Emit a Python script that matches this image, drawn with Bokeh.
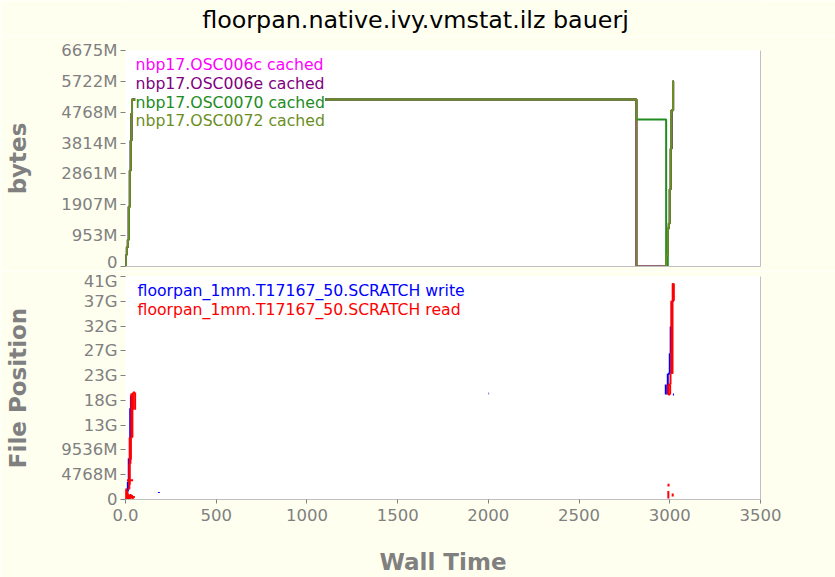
from bokeh.plotting import figure
from bokeh.layouts import column
from bokeh.models import FixedTicker, LinearAxis, Range1d, Label, ColumnDataSource
from bokeh.embed import file_html
from bokeh.resources import INLINE

# ---------------- data ----------------
title_text = "floorpan.native.ivy.vmstat.ilz bauerj"
x_ticks = [0, 500, 1000, 1500, 2000, 2500, 3000, 3500]
x_tick_labels = ["0.0", "500", "1000", "1500", "2000", "2500", "3000", "3500"]
top_ticks = [0, 1000000000, 2000000000, 3000000000, 4000000000, 5000000000, 6000000000, 7000000000]
top_tick_labels = ["0", "953M", "1907M", "2861M", "3814M", "4768M", "5722M", "6675M"]
bot_ticks = [0, 5000000000, 10000000000, 15000000000, 20000000000, 25000000000,
             30000000000, 35000000000, 40000000000, 45000000000]
bot_tick_labels = ["0", "4768M", "9536M", "13G", "18G", "23G", "27G", "32G", "37G", "41G"]

cache_names = ["nbp17.OSC006c cached", "nbp17.OSC006e cached",
               "nbp17.OSC0070 cached", "nbp17.OSC0072 cached"]
# step series: time (s), cached bytes (GB)
osc006c_t = [0, 1.7, 7, 13, 18, 24, 29, 33, 36, 2816, 2980, 2989, 2995, 3000, 3005, 3009, 3018, 3021]
osc006c_v = [0, 0.38, 0.62, 0.87, 1.94, 3.11, 4.08, 4.96, 5.41, 0, 0.36, 1.23, 1.39, 2.50, 3.82, 5.06, 6.0, 6.0]
osc006e_t = [0, 1.7, 7, 13, 18, 24, 29, 33, 36, 2816, 2980, 2989, 2995, 3000, 3006, 3011, 3019, 3021]
osc006e_v = [0, 0.38, 0.62, 0.87, 1.94, 3.11, 4.08, 4.96, 5.41, 0, 0.36, 1.23, 1.39, 2.50, 3.82, 5.06, 6.0, 6.0]
osc0070_t = [0, 1.7, 7, 13, 18, 24, 29, 33, 36, 2816, 2980, 2989, 2995, 3000, 3005, 3009, 3018, 3021]
osc0070_v = [0, 0.38, 0.62, 0.87, 1.94, 3.11, 4.08, 4.96, 5.41, 4.76, 0, 1.23, 1.39, 2.50, 3.82, 5.06, 6.0, 6.0]
osc0072_t = [0, 1.7, 7, 13, 18, 24, 29, 33, 36, 2816, 2980, 2989, 2995, 3000, 3005, 3009, 3018, 3021]
osc0072_v = [0, 0.38, 0.62, 0.87, 1.94, 3.11, 4.08, 4.96, 5.41, 0, 0.36, 1.23, 1.39, 2.50, 3.82, 5.06, 6.0, 6.0]

io_names = ["floorpan_1mm.T17167_50.SCRATCH write", "floorpan_1mm.T17167_50.SCRATCH read"]
# I/O segments: time start/end (s), file position start/end (GB)
write_t0 = [10, 13, 18, 26, 30, 184, 2001, 2978, 2989, 2989, 3000, 3005, 3011, 3018, 3017]
write_t1 = [10, 13, 18, 26, 30, 184, 2004, 2978, 2989, 3000, 3000, 3005, 3011, 3018, 3023]
write_p0 = [0.6, 1.6, 3.6, 8.3, 18.4, 1.3, 21.4, 21.2, 21.2, 25.4, 25.4, 29.5, 34.9, 39.9, 21.2]
write_p1 = [1.6, 3.6, 8.3, 18.4, 21.0, 1.5, 21.4, 23.2, 25.4, 25.4, 29.5, 34.9, 39.9, 43.6, 21.2]

read_t0 = [1, 3, 5, 7, 9, 12, 15, 20, 24, 28, 32, 36, 40, 46, 8,
           21, 23, 25, 27, 29, 32, 38, 32, 41, 53, 41,
           2991, 3002, 2991, 2991, 3004, 3009, 3012, 3015, 3016, 3019, 3022,
           2992, 2993, 3016]
read_t1 = [1, 3, 5, 7, 9, 12, 15, 20, 24, 28, 32, 36, 40, 46, 42,
           21, 23, 25, 27, 29, 32, 38, 38, 41, 53, 53,
           2991, 3002, 3002, 3002, 3004, 3009, 3012, 3015, 3016, 3019, 3022,
           2992, 2993, 3016]
read_p0 = [0.0, 0.0, 0.0, 0.3, 0.0, 0.2, 0.0, 0.3, 0.1, 0.4, 0.2, 0.5, 0.1, 0.3, 3.9,
           2.0, 3.0, 7.2, 7.2, 8.0, 12.5, 12.5, 12.5, 18.1, 18.1, 21.6,
           21.2, 21.2, 23.2, 21.2, 23.2, 25.4, 25.4, 25.4, 40.1, 40.1, 40.1,
           0.2, 2.6, 0.6]
read_p1 = [2.2, 2.0, 2.2, 1.8, 1.5, 1.2, 0.9, 1.0, 0.7, 1.1, 0.6, 0.9, 0.5, 0.7, 3.9,
           7.2, 12.5, 12.5, 12.5, 12.5, 21.4, 21.4, 12.5, 21.6, 21.6, 21.6,
           23.2, 23.2, 23.2, 21.2, 25.4, 40.1, 40.1, 40.1, 43.6, 43.6, 43.6,
           1.7, 3.2, 1.2]

# ---------------- style ----------------
BG = "#fffff0"
GRAY = "#808080"
AXLINE = "#c0c0c0"
FONT = "DejaVu Sans"
TICK_SIZE = "16.5px"
LEG_SIZE = "15.7px"
W = 835
X0, X1 = 0, 3500
TOP_MAX = 7e9
BOT_MAX = 45e9
FRAME_L = 125
FRAME_W = 635
TITLE_H = 36
FRAME_TOP = 50
TOP_H = 216
BOT_H = 227
GB = 1e9


def style_fig(p):
    p.background_fill_color = "white"
    p.border_fill_color = BG
    p.outline_line_color = None
    p.grid.visible = False


def style_yaxis(ax, ticks, labels, name):
    ax.ticker = FixedTicker(ticks=ticks)
    ax.major_label_overrides = {t: l for t, l in zip(ticks, labels)}
    ax.axis_line_color = None
    ax.major_tick_line_color = GRAY
    ax.major_tick_out = 5
    ax.major_tick_in = 0
    ax.minor_tick_line_color = None
    ax.major_label_standoff = 3
    ax.major_label_text_font = FONT
    ax.major_label_text_font_size = TICK_SIZE
    ax.major_label_text_color = GRAY
    ax.axis_label = name
    ax.axis_label_text_font = FONT
    ax.axis_label_text_font_size = "23px"
    ax.axis_label_text_font_style = "bold"
    ax.axis_label_text_color = GRAY
    ax.axis_label_standoff = 27


def line_axis():
    return LinearAxis(ticker=FixedTicker(ticks=[]), axis_line_color=AXLINE,
                      major_tick_line_color=None, minor_tick_line_color=None,
                      major_label_text_font_size="0px", major_label_standoff=0)


# ---------------- title strip (its frame is aligned with the panels below) ----------------
p0 = figure(width=W, height=TITLE_H, x_range=Range1d(0, 1), y_range=Range1d(0, 1),
            x_axis_location=None, y_axis_location=None, output_backend="svg",
            toolbar_location=None, min_border=0)
p0.background_fill_color = BG
p0.border_fill_color = BG
p0.outline_line_color = None
p0.grid.visible = False
title_cx = W / 2 - 2.5
title_cy = 19
p0.add_layout(Label(x=(title_cx - FRAME_L) / FRAME_W, y=1 - title_cy / TITLE_H, text=title_text,
                    text_color="black", text_font=FONT, text_font_size="23.8px",
                    text_align="center", text_baseline="middle"))

# ---------------- top panel ----------------
p1 = figure(width=W, height=271 - TITLE_H, x_range=Range1d(X0, X1), y_range=Range1d(0, TOP_MAX),
            x_axis_location=None, output_backend="svg", toolbar_location=None,
            min_border_left=FRAME_L, min_border_right=W - FRAME_L - FRAME_W,
            min_border_top=FRAME_TOP - TITLE_H, min_border_bottom=5)
style_fig(p1)
style_yaxis(p1.yaxis[0], top_ticks, top_tick_labels, "bytes")
p1.add_layout(line_axis(), "below")
p1.add_layout(line_axis(), "right")

series = [(osc006c_t, osc006c_v, "#ff00ff"), (osc006e_t, osc006e_v, "#800080"),
          (osc0070_t, osc0070_v, "#228b22"), (osc0072_t, osc0072_v, "#6b8e23")]
for (t, v, c) in series:
    p1.step(t, [vv * GB for vv in v], mode="after", line_color=c, line_width=2)

top_dx = 10 * (X1 - X0) / FRAME_W
top_items = list(enumerate(zip(cache_names, [s[2] for s in series])))
for i, (name, c) in reversed(top_items):
    off = 14.2 + 18.7 * i
    p1.add_layout(Label(x=X0 + top_dx, y=TOP_MAX - off * TOP_MAX / TOP_H, text=name,
                        text_color=c, text_font=FONT, text_font_size=LEG_SIZE,
                        text_baseline="middle", background_fill_color="white"))

# ---------------- bottom panel ----------------
p2 = figure(width=W, height=306, x_range=Range1d(X0, X1), y_range=Range1d(0, BOT_MAX),
            output_backend="svg", toolbar_location=None,
            min_border_left=FRAME_L, min_border_right=W - FRAME_L - FRAME_W,
            min_border_top=5, min_border_bottom=74)
style_fig(p2)
style_yaxis(p2.yaxis[0], bot_ticks, bot_tick_labels, "File Position")
xa = p2.xaxis[0]
xa.ticker = FixedTicker(ticks=x_ticks)
xa.major_label_overrides = {t: l for t, l in zip(x_ticks, x_tick_labels)}
xa.axis_line_color = AXLINE
xa.major_tick_line_color = GRAY
xa.major_tick_out = 4
xa.major_tick_in = 0
xa.minor_tick_line_color = None
xa.major_label_standoff = 5
xa.major_label_text_font = FONT
xa.major_label_text_font_size = TICK_SIZE
xa.major_label_text_color = GRAY
xa.axis_label = "Wall Time"
xa.axis_label_text_font = FONT
xa.axis_label_text_font_size = "23px"
xa.axis_label_text_font_style = "bold"
xa.axis_label_text_color = GRAY
xa.axis_label_standoff = 25
p2.add_layout(line_axis(), "right")

wsrc = ColumnDataSource(dict(x0=write_t0, x1=write_t1,
                             y0=[v * GB for v in write_p0], y1=[v * GB for v in write_p1]))
rsrc = ColumnDataSource(dict(x0=read_t0, x1=read_t1,
                             y0=[v * GB for v in read_p0], y1=[v * GB for v in read_p1]))
p2.segment(x0="x0", y0="y0", x1="x1", y1="y1", source=wsrc, line_color="#0000ff", line_width=2)
p2.segment(x0="x0", y0="y0", x1="x1", y1="y1", source=rsrc, line_color="#ff0000", line_width=2)

bot_dx = 12 * (X1 - X0) / FRAME_W
for i, (name, c) in enumerate(zip(io_names, ["#0000ff", "#ff0000"])):
    off = 14.7 + 18.4 * i
    p2.add_layout(Label(x=X0 + bot_dx, y=BOT_MAX - off * BOT_MAX / BOT_H, text=name,
                        text_color=c, text_font=FONT, text_font_size=LEG_SIZE,
                        text_baseline="middle"))

layout = column(p0, p1, p2, spacing=0)
open("out.html", "w").write(file_html(layout, INLINE))
